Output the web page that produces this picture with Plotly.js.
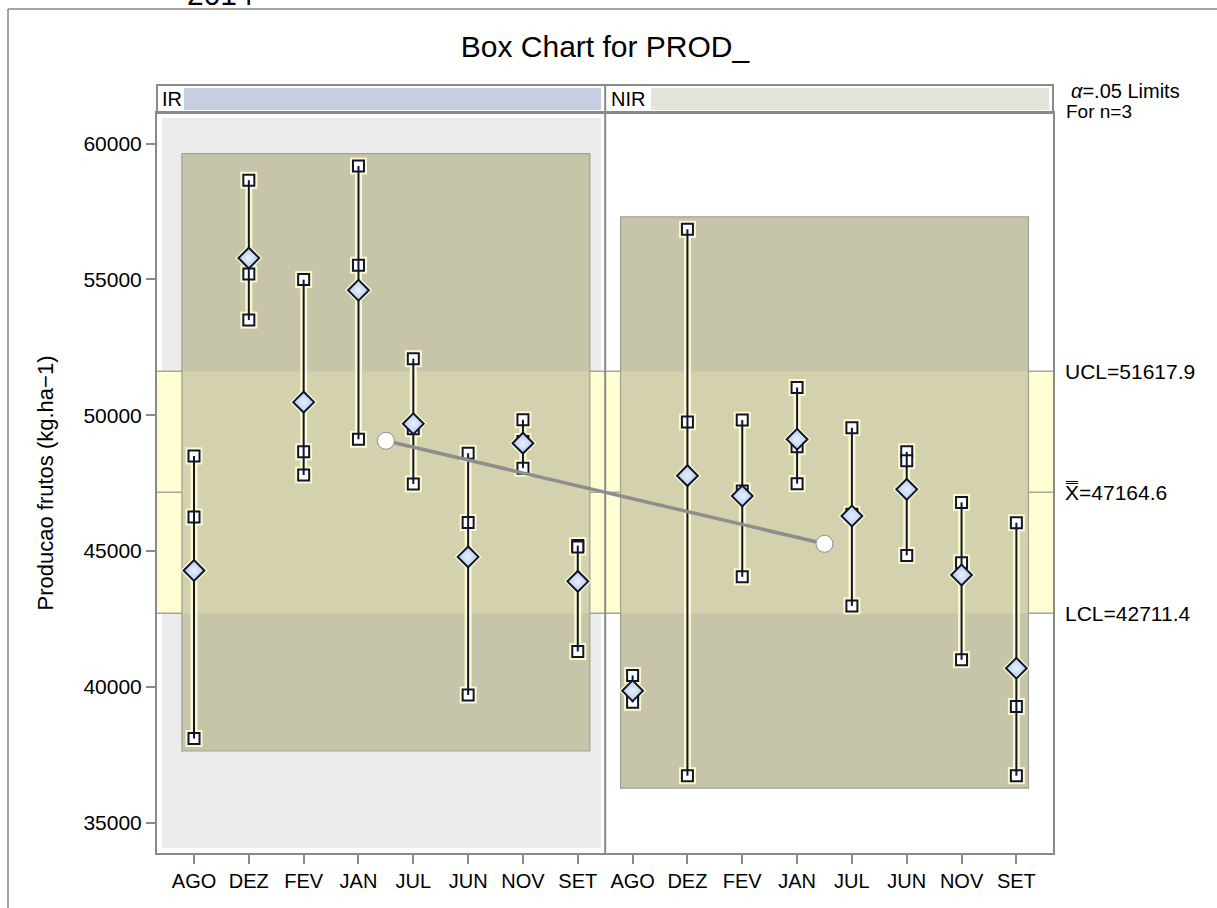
<!DOCTYPE html>
<html><head><meta charset="utf-8">
<script src="https://cdn.plot.ly/plotly-3.0.1.min.js"></script>
<style>html,body{margin:0;padding:0;background:#fff;overflow:hidden;} #chart{width:1217px;height:908px;}</style>
</head><body><div id="chart"></div>
<script>
// ---------------- DATA ----------------
const months = ['AGO','DEZ','FEV','JAN','JUL','JUN','NOV','SET'];
const groups = ['IR','NIR'];
// three observations (n=3) per subgroup, in month order
const irValues = [
  [48500, 46250, 38100], // AGO
  [58650, 55200, 53500], // DEZ
  [54990, 48650, 47800], // FEV
  [59170, 55520, 49110], // JAN
  [52080, 49500, 47470], // JUL
  [48600, 46050, 39700], // JUN
  [49830, 49030, 48050], // NOV
  [45200, 45150, 41300]  // SET
];
const nirValues = [
  [40420, 39720, 39430], // AGO
  [56840, 49750, 36730], // DEZ
  [49820, 47210, 44050], // FEV
  [51020, 48840, 47480], // JAN
  [49540, 46350, 42980], // JUL
  [48650, 48320, 44840], // JUN
  [46790, 44570, 41000], // NOV
  [46040, 39280, 36730]  // SET
];
const UCL = 51617.9, XBAR = 47164.6, LCL = 42711.4;
const yTicks = [35000, 40000, 45000, 50000, 55000, 60000];

// ---------------- GEOMETRY ----------------
const FONT = 'Liberation Sans, Arial, sans-serif';
const L = 157, R = 1053, T = 113, B = 853;
const pw = R - L, ph = B - T;
const px = v => (v - L) / pw;
const py = v => (B - v) / ph;
const xRange = [-0.675, 15.668];
const yRange = [33885, 61123];
const padX = 0.22, padY = 460;

const groupData = [irValues, nirValues];
const mean = a => a.reduce((s, v) => s + v, 0) / a.length;

const sqX = [], sqY = [], wX = [], wY = [], dX = [], dY = [];
const gmX = [], gmY = [];
const shapes = [];

// outer frame (continues beyond the right and bottom edges)
shapes.push({type:'line', xref:'paper', yref:'paper', x0:px(8), x1:px(1217), y0:py(9), y1:py(9),
  line:{color:'#a3a3a3', width:2}, layer:'below'});
shapes.push({type:'line', xref:'paper', yref:'paper', x0:px(8), x1:px(8), y0:py(9), y1:py(908),
  line:{color:'#a3a3a3', width:2}, layer:'below'});
// IR panel gray background
shapes.push({type:'rect', xref:'paper', yref:'paper', x0:px(162), x1:px(601), y0:py(848), y1:py(118),
  line:{width:0}, fillcolor:'#ececec', layer:'below'});
// control band
shapes.push({type:'rect', xref:'paper', yref:'y', x0:0, x1:1, y0:LCL, y1:UCL,
  line:{width:0}, fillcolor:'#fffdd2', layer:'below'});

groupData.forEach((gd, g) => {
  const pos = months.map((m, i) => g * months.length + i);
  let all = [];
  const means = [];
  gd.forEach((vals, i) => {
    const x = pos[i];
    vals.forEach(v => { sqX.push(x); sqY.push(v); });
    wX.push(x, x, null); wY.push(Math.min(...vals), Math.max(...vals), null);
    const m = mean(vals); means.push(m);
    dX.push(x); dY.push(m);
    all = all.concat(vals);
  });
  gmX.push(mean(pos)); gmY.push(mean(means));
  const bx0 = pos[0] - padX, bx1 = pos[pos.length - 1] + padX;
  const by0 = Math.min(...all) - padY, by1 = Math.max(...all) + padY;
  shapes.push({type:'rect', xref:'x', yref:'y', x0:bx0, x1:bx1, y0:by0, y1:by1,
    line:{width:0}, fillcolor:'#c6c4a9', layer:'below'});
  shapes.push({type:'rect', xref:'x', yref:'y', x0:bx0, x1:bx1, y0:Math.max(by0, LCL), y1:Math.min(by1, UCL),
    line:{width:0}, fillcolor:'#d3d1ae', layer:'below'});
  shapes.push({type:'rect', xref:'x', yref:'y', x0:bx0, x1:bx1, y0:by0, y1:by1,
    line:{width:1.2, color:'#a2a191'}, fillcolor:'rgba(0,0,0,0)', layer:'below'});
});

// control lines
[UCL, XBAR, LCL].forEach(v => shapes.push({type:'line', xref:'paper', yref:'y', x0:0, x1:1, y0:v, y1:v,
  line:{color:'#a9a898', width:1.5}, layer:'below'}));

// panel divider
shapes.push({type:'line', xref:'x', yref:'paper', x0:months.length - 0.5, x1:months.length - 0.5, y0:0, y1:py(85),
  line:{color:'#8a8a8a', width:2}});
// header strips
shapes.push({type:'rect', xref:'paper', yref:'paper', x0:0, x1:1, y0:1, y1:py(85),
  line:{color:'#8a8a8a', width:2}, fillcolor:'rgba(0,0,0,0)'});
shapes.push({type:'rect', xref:'paper', yref:'paper', x0:px(184), x1:px(601), y0:py(110), y1:py(88),
  line:{width:0}, fillcolor:'#c5cfe1', layer:'below'});
shapes.push({type:'rect', xref:'paper', yref:'paper', x0:px(651), x1:px(1049), y0:py(110), y1:py(88),
  line:{width:0}, fillcolor:'#e4e5da', layer:'below'});

const NAVY = '#0e162e';
const HALO = 'rgba(255,251,205,0.95)';
const traces = [
  {x:wX, y:wY, mode:'lines', line:{color:HALO, width:7}, hoverinfo:'skip'},
  {x:sqX, y:sqY, mode:'markers', marker:{symbol:'square', size:17, color:HALO}, hoverinfo:'skip'},
  {x:dX, y:dY, mode:'markers', marker:{symbol:'diamond', size:21, color:HALO}, hoverinfo:'skip'},
  {x:sqX, y:sqY, mode:'markers', marker:{symbol:'square', size:11, color:'#ffffff', line:{color:NAVY, width:2}}},
  {x:wX, y:wY, mode:'lines', line:{color:NAVY, width:2}},
  {x:dX, y:dY, mode:'markers', marker:{symbol:'diamond', size:16, color:'#b4cbee',
     gradient:{type:'radial', color:'#e9f0fb'}, line:{color:NAVY, width:2}}},
  {x:gmX, y:gmY, mode:'lines+markers', line:{color:'#8e8e8e', width:3.5},
     marker:{symbol:'circle', size:17, color:'#ffffff', line:{color:'#8e8e8e', width:1}}}
];

const annotations = [
  {text:'2014', xref:'paper', yref:'paper', x:px(220), y:py(13), xanchor:'center', yanchor:'bottom',
    showarrow:false, font:{family:FONT, size:30, color:'#000'}},
  {text:groups[0], xref:'paper', yref:'paper', x:px(160), y:py(99), xanchor:'left', yanchor:'middle',
    showarrow:false, font:{family:FONT, size:20, color:'#000'}},
  {text:groups[1], xref:'paper', yref:'paper', x:px(609), y:py(99), xanchor:'left', yanchor:'middle',
    showarrow:false, font:{family:FONT, size:20, color:'#000'}},
  {text:'<i>α</i>=.05 Limits', xref:'paper', yref:'paper', x:px(1069), y:py(91), xanchor:'left', yanchor:'middle',
    showarrow:false, font:{family:FONT, size:20, color:'#000'}},
  {text:'For n=3', xref:'paper', yref:'paper', x:px(1064), y:py(112), xanchor:'left', yanchor:'middle',
    showarrow:false, font:{family:FONT, size:19, color:'#000'}},
  {text:'UCL=' + UCL.toFixed(1), xref:'paper', yref:'y', x:px(1063), y:UCL, xanchor:'left', yanchor:'middle',
    showarrow:false, font:{family:FONT, size:21, color:'#000'}},
  {text:'X\u033F=' + XBAR.toFixed(1), xref:'paper', yref:'y', x:px(1063), y:XBAR, xanchor:'left', yanchor:'middle',
    showarrow:false, font:{family:FONT, size:21, color:'#000'}},
  {text:'LCL=' + LCL.toFixed(1), xref:'paper', yref:'y', x:px(1063), y:LCL, xanchor:'left', yanchor:'middle',
    showarrow:false, font:{family:FONT, size:21, color:'#000'}}
];

const tickPos = [], tickText = [];
groups.forEach((g, gi) => months.forEach((m, i) => { tickPos.push(gi * months.length + i); tickText.push(m); }));

const layout = {
  width:1217, height:908,
  margin:{l:L, r:1217 - R, t:T, b:908 - B, pad:0},
  paper_bgcolor:'#ffffff', plot_bgcolor:'rgba(0,0,0,0)',
  showlegend:false, hovermode:false,
  font:{family:FONT, size:20, color:'#000'},
  title:{text:'Box Chart for PROD_', font:{family:FONT, size:30, color:'#000'},
    xref:'paper', x:0.5, xanchor:'center', yref:'container', y:1 - 46/908, yanchor:'middle'},
  xaxis:{type:'linear', range:xRange, tickvals:tickPos, ticktext:tickText, ticks:'outside', ticklen:9, tickwidth:2,
    tickcolor:'#8a8a8a', showline:true, linecolor:'#8a8a8a', linewidth:2, mirror:true, showgrid:false, zeroline:false,
    tickfont:{family:FONT, size:20, color:'#000'}},
  yaxis:{range:yRange, tickvals:yTicks, ticktext:yTicks.map(String), ticks:'outside', ticklen:9, tickwidth:2,
    tickcolor:'#8a8a8a', showline:true, linecolor:'#8a8a8a', linewidth:2, mirror:true, showgrid:false, zeroline:false,
    tickfont:{family:FONT, size:21, color:'#000'},
    title:{text:'Producao frutos (kg.ha\u22121)', font:{family:FONT, size:22, color:'#000'}, standoff:24}},
  shapes:shapes, annotations:annotations
};

Plotly.newPlot('chart', traces, layout, {displayModeBar:false, staticPlot:true});
</script></body></html>
